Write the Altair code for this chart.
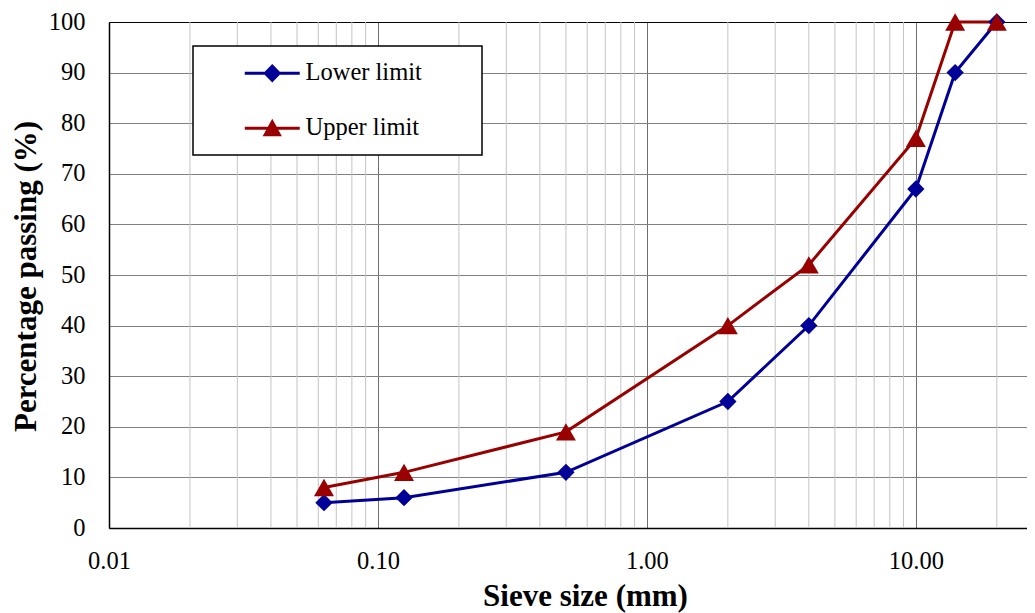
import altair as alt
import pandas as pd

sieve_sizes = [0.063, 0.125, 0.5, 2, 4, 10, 14, 20]
lower_limit = [5, 6, 11, 25, 40, 67, 90, 100]
upper_limit = [8, 11, 19, 40, 52, 77, 100, 100]
series_names = ["Lower limit", "Upper limit"]
series_colors = ["#000099", "#990000"]
series_shapes = ["diamond", "triangle-up"]
x_major_ticks = [0.01, 0.1, 1, 10]
y_ticks = list(range(0, 101, 10))
x_domain = [0.01, 25.9]

n = len(sieve_sizes)
df = pd.DataFrame({
    "size": sieve_sizes * 2,
    "pct": lower_limit + upper_limit,
    "series": [series_names[0]] * n + [series_names[1]] * n,
})
minor = [m * d for d in x_major_ticks for m in range(2, 10) if m * d <= x_domain[1]]
grid_df = pd.DataFrame({"size": minor})

FONT = "Liberation Serif"
LABEL_SIZE = 24.5
TITLE_SIZE = 31

x_scale = alt.Scale(type="log", domain=x_domain, nice=False)
y_scale = alt.Scale(domain=[0, 100], nice=False)

x_axis = alt.Axis(
    values=x_major_ticks, format=".2f", title="Sieve size (mm)",
    grid=True, gridColor="#6e6e6e", gridWidth=1, ticks=False,
    labelFont=FONT, labelFontSize=LABEL_SIZE, labelPadding=21, labelColor="black",
    labelFlush=False, labelOverlap=False,
    domainColor="black", domainWidth=1.5,
    titleFont=FONT, titleFontSize=TITLE_SIZE, titleFontWeight="bold", titleColor="black",
    titleX=476, titleY=77, titleBaseline="alphabetic", titleAlign="center",
)
y_axis = alt.Axis(
    values=y_ticks, title="Percentage passing  (%)",
    grid=True,
    gridColor={"condition": {"test": "datum.value === 100", "value": "#000000"}, "value": "#808080"},
    gridWidth=1, ticks=False,
    labelFont=FONT, labelFontSize=LABEL_SIZE, labelPadding=24, labelColor="black",
    labelFlush=False, labelOverlap=False,
    domainColor="black", domainWidth=1.5,
    titleFont=FONT, titleFontSize=TITLE_SIZE, titleFontWeight="bold", titleColor="black",
    titleAngle=270, titleX=-73.5, titleY=254, titleBaseline="alphabetic", titleAlign="center",
)

# legend symbols: line segment with marker (units of 12 px); trailing moveTo widens the box
lower_path = "M-2.29,-0.125H2.29V0.125H-2.29Z M0,-0.78L0.75,0L0,0.78L-0.75,0Z M16.2,0"
upper_path = "M-2.29,-0.125H2.29V0.125H-2.29Z M0,-0.8L0.8,0.66L-0.8,0.66Z M16.2,0"

legend = alt.Legend(
    title=None, orient="none", legendX=84, legendY=24,
    fillColor="white", strokeColor="black", padding=15,
    symbolOffset=52, labelFont=FONT, labelFontSize=LABEL_SIZE, labelOffset=21,
    labelColor="black", rowPadding=30, symbolStrokeWidth=0, symbolSize=576,
)

color = alt.Color("series:N", scale=alt.Scale(domain=series_names, range=series_colors), legend=legend)
legend_shape = alt.Shape("series:N", scale=alt.Scale(domain=series_names, range=[lower_path, upper_path]), legend=legend)

x_enc = alt.X("size:Q", scale=x_scale, axis=x_axis)
y_enc = alt.Y("pct:Q", scale=y_scale, axis=y_axis)

grid = alt.Chart(grid_df).mark_rule(color="#c4c4c4", strokeWidth=1).encode(x=x_enc)

lines = alt.Chart(df).mark_line(strokeWidth=3).encode(
    x=x_enc, y=y_enc, color=color, detail="series:N"
)
pts = []
for name, shp, sz in zip(series_names, series_shapes, [300, 400]):
    pts.append(
        alt.Chart(df).transform_filter(alt.datum.series == name)
        .mark_point(filled=True, size=sz, opacity=1, strokeWidth=1)
        .encode(x=x_enc, y=y_enc, color=color, shape=alt.value(shp))
    )
legend_layer = alt.Chart(df).transform_filter("false").mark_point(filled=True, opacity=1).encode(
    x=x_enc, y=y_enc, color=color, shape=legend_shape
)

chart = alt.layer(grid, lines, *pts, legend_layer).properties(
    width=918, height=506,
    autosize=alt.AutoSizeParams(type="none"),
    padding={"left": 101, "top": 14, "right": 0, "bottom": 85},
).configure_view(stroke=None).configure(font=FONT).configure_legend(strokeWidth=1.5)

chart.save("out.html", embed_options={"renderer": "svg", "actions": False})
